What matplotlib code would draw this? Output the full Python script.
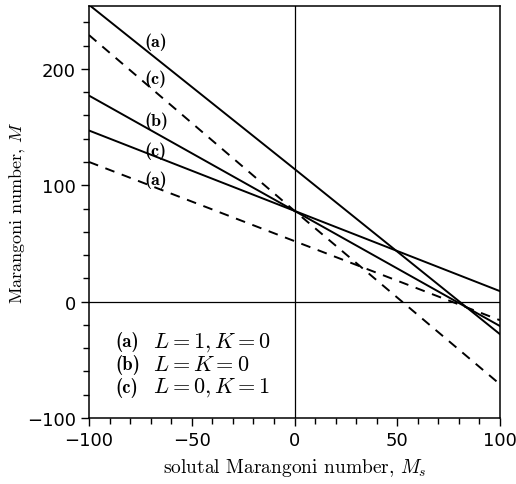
import matplotlib
matplotlib.use('Agg')
import matplotlib.pyplot as plt

plt.rcParams['mathtext.fontset'] = 'cm'

# solutal Marangoni number (x) and Marangoni number (y) for each curve
ms = [-100, 0, 100]
solid_a = [255, 114, -28]
solid_b = [177, 78, -21]
solid_c = [147, 78, 9]
dashed_a = [120, 52, -16]
dashed_c = [229, 78, -71]

# curve tags: (text, x, y)
tags = [('(a)', -73, 224), ('(c)', -73, 192), ('(b)', -73, 156),
        ('(c)', -73, 130), ('(a)', -73, 105)]
legend_rows = [('(a)', r'$L=1,K=0$'), ('(b)', r'$L=K=0$'), ('(c)', r'$L=0,K=1$')]

fig = plt.figure(figsize=(5.16, 4.85), dpi=100)
ax = fig.add_axes([0.1725, 0.136, 0.7965, 0.8496])

ax.plot(ms, solid_a, color='black', lw=1.4)
ax.plot(ms, solid_b, color='black', lw=1.4)
ax.plot(ms, solid_c, color='black', lw=1.4)
ax.plot(ms, dashed_a, color='black', lw=1.4, ls=(0, (5, 4)))
ax.plot(ms, dashed_c, color='black', lw=1.4, ls=(0, (5, 4)))

ax.axvline(0, color='black', lw=0.9)
ax.axhline(0, color='black', lw=0.9)

for t, x, y in tags:
    ax.text(x, y, t, fontfamily='cmb10', fontsize=13, ha='left', va='center')

legend_y = [-34, -53.5, -73]
for (t, eq), y in zip(legend_rows, legend_y):
    ax.text(-87, y, t, fontfamily='cmb10', fontsize=13.5, ha='left', va='center')
    ax.text(-69, y, eq, fontsize=16, ha='left', va='center')

ax.set_xlim(-100, 100)
ax.set_ylim(-100, 254)
ax.set_xticks([-100, -50, 0, 50, 100])
ax.set_xticks(range(-100, 101, 10), minor=True)
ax.set_yticks([-100, 0, 100, 200])
ax.set_yticks(range(-100, 241, 20), minor=True)
ax.tick_params(which='major', length=6, width=1, labelsize=13, direction='out')
ax.tick_params(which='minor', length=4, width=1, direction='out')
for s in ax.spines.values():
    s.set_linewidth(1.1)

ax.set_xlabel('solutal Marangoni number, $M_s$', fontfamily='cmr10', fontsize=14, labelpad=5)
ax.set_ylabel('Marangoni number, $M$', fontfamily='cmr10', fontsize=13, labelpad=0)

fig.savefig('out.png', dpi=100)
